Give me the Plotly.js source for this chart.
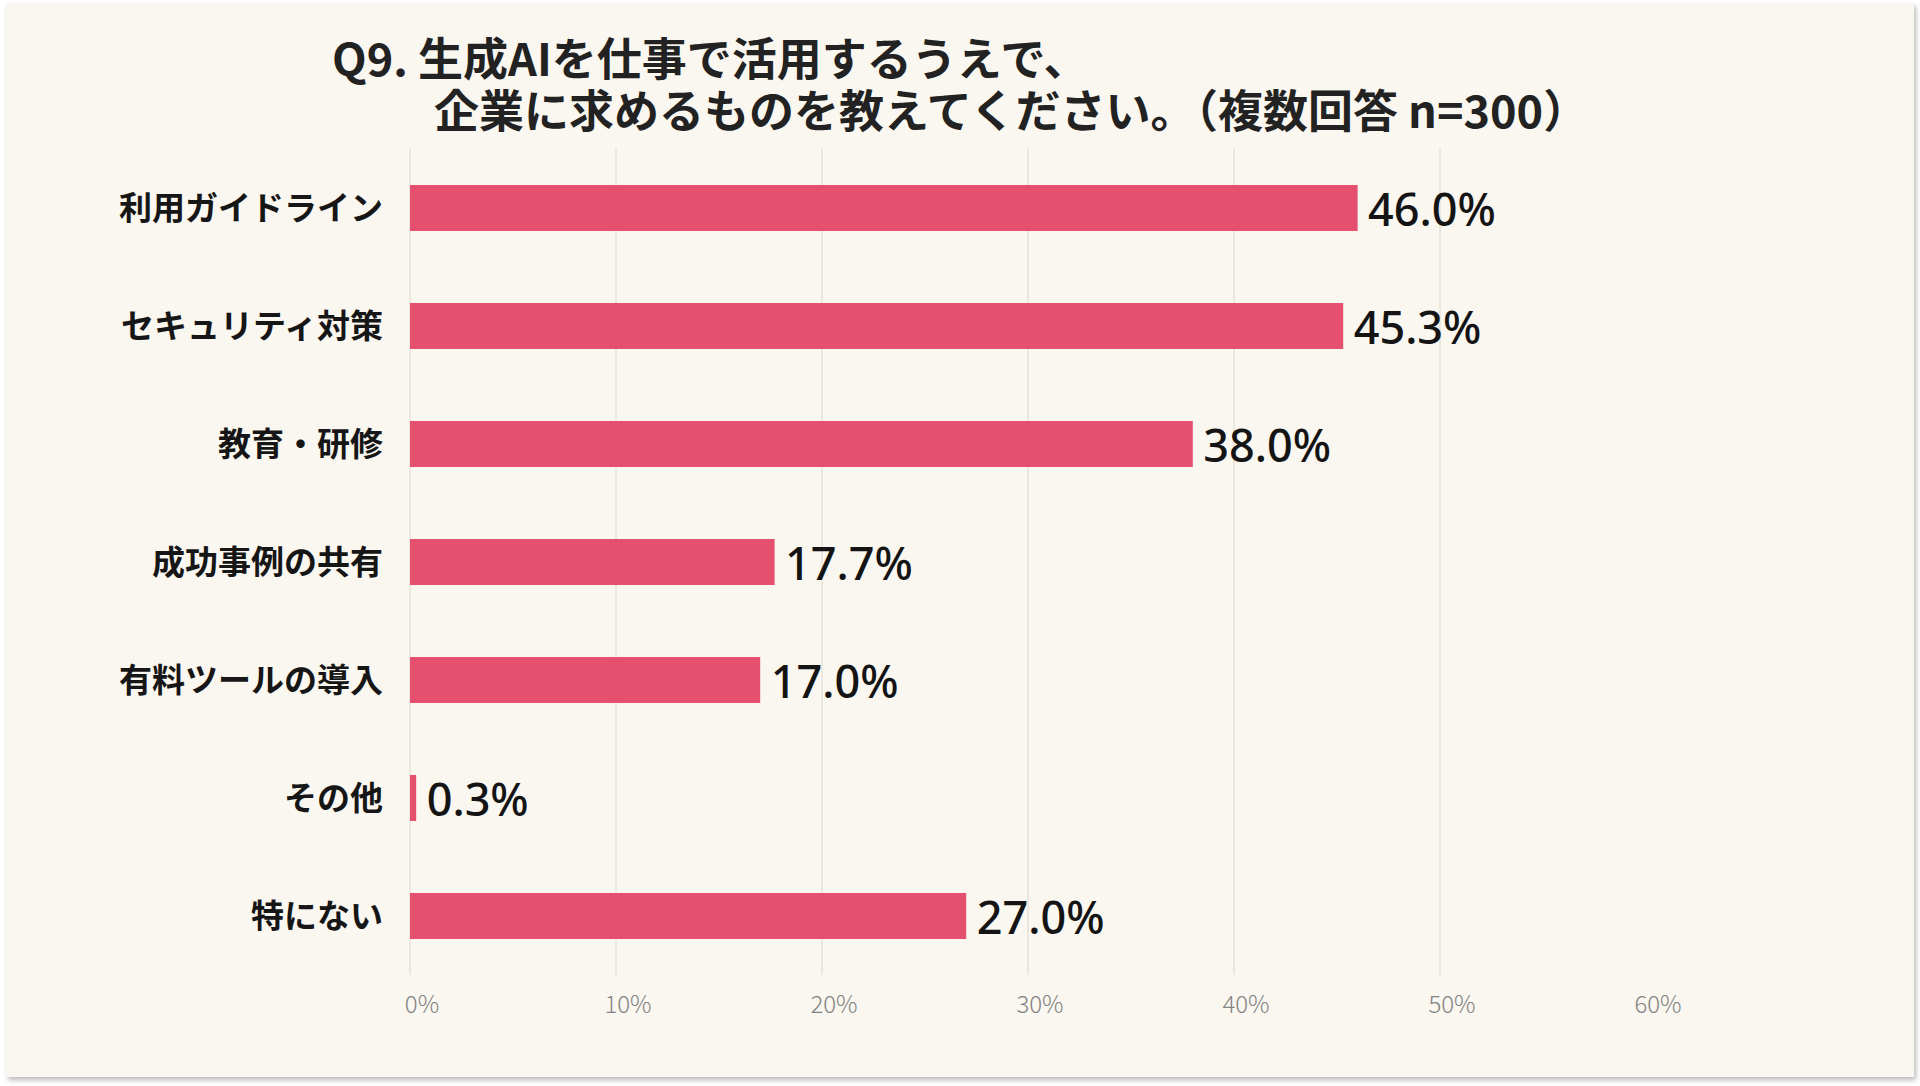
<!DOCTYPE html>
<html>
<head>
<meta charset="utf-8">
<script src="https://cdn.plot.ly/plotly-3.0.1.min.js"></script>
<style>
    body { margin: 0; background: #ffffff; }
    #chart {
        position: absolute;
        left: 6px;
        top: 3px;
        width: 1908px;
        height: 1074px;
        box-shadow: 2px 3px 5px rgba(0, 0, 0, 0.28);
    }
</style>
</head>
<body>
<div id="chart"></div>
<script>
// 企業に求めるもの (複数回答 n=300)
const categories = [
    '利用ガイドライン',
    'セキュリティ対策',
    '教育・研修',
    '成功事例の共有',
    '有料ツールの導入',
    'その他',
    '特にない'
];
const percents = [46.0, 45.3, 38.0, 17.7, 17.0, 0.3, 27.0];
const tickValues = [0, 10, 20, 30, 40, 50, 60];
const tickLabels = ['0%', '10%', '20%', '30%', '40%', '50%', '60%'];

const titleLine1 = 'Q9. 生成AIを仕事で活用するうえで、';
const titleLine2 = '企業に求めるものを教えてください。（複数回答 n=300）';

const W = 1908, H = 1074;
const margin = {l: 404, r: 268, t: 146, b: 102};
const plotW = W - margin.l - margin.r;
const plotH = H - margin.t - margin.b;

// pixel position in the div -> paper coordinate
function paperX(px) { return (px - margin.l) / plotW; }
function paperY(py) { return (H - margin.b - py) / plotH; }

const titleFont = {family: '"Noto Sans CJK JP", sans-serif', size: 45, color: '#222222', weight: 700};

const data = [
    {
        type: 'bar',
        orientation: 'h',
        x: percents,
        y: categories,
        marker: {color: '#e6506f'},
        text: percents.map(v => '\u2009' + v.toFixed(1) + '%'),
        textposition: 'outside',
        constraintext: 'none',
        cliponaxis: false,
        textfont: {
            family: '"Noto Sans", "Noto Sans CJK JP", sans-serif',
            size: 45,
            color: '#141414',
            weight: 500
        },
        hoverinfo: 'none'
    }
];

const layout = {
    width: W,
    height: H,
    margin: margin,
    paper_bgcolor: '#faf7f0',
    plot_bgcolor: '#faf7f0',
    showlegend: false,
    bargap: 0.61,
    font: {family: '"Noto Sans CJK JP", sans-serif'},
    xaxis: {
        range: [0, 60],
        tickvals: tickValues,
        ticktext: tickLabels,
        showgrid: true,
        gridcolor: '#ebe7de',
        gridwidth: 2,
        zeroline: true,
        zerolinecolor: '#ebe7de',
        zerolinewidth: 2,
        showline: false,
        ticks: '',
        ticklabelshift: 12,
        ticklabelstandoff: 13,
        tickfont: {
            family: '"Noto Sans CJK JP", "Noto Sans", sans-serif',
            size: 24,
            color: '#828282',
            weight: 300
        },
        fixedrange: true
    },
    yaxis: {
        type: 'category',
        autorange: 'reversed',
        showgrid: false,
        zeroline: false,
        showline: false,
        ticks: '',
        ticklabelstandoff: 26,
        tickfont: {
            family: '"Noto Sans CJK JP", sans-serif',
            size: 33,
            color: '#161616',
            weight: 700
        },
        fixedrange: true
    },
    annotations: [
        {
            text: titleLine1,
            xref: 'paper', yref: 'paper',
            x: paperX(324), y: paperY(54),
            xanchor: 'left', yanchor: 'middle',
            showarrow: false,
            font: titleFont
        },
        {
            text: titleLine2,
            xref: 'paper', yref: 'paper',
            x: paperX(426), y: paperY(105),
            xanchor: 'left', yanchor: 'middle',
            showarrow: false,
            font: titleFont
        }
    ]
};

const config = {
    responsive: false,
    editable: false,
    displaylogo: false,
    displayModeBar: false
};

Plotly.newPlot('chart', data, layout, config);
</script>
</body>
</html>
